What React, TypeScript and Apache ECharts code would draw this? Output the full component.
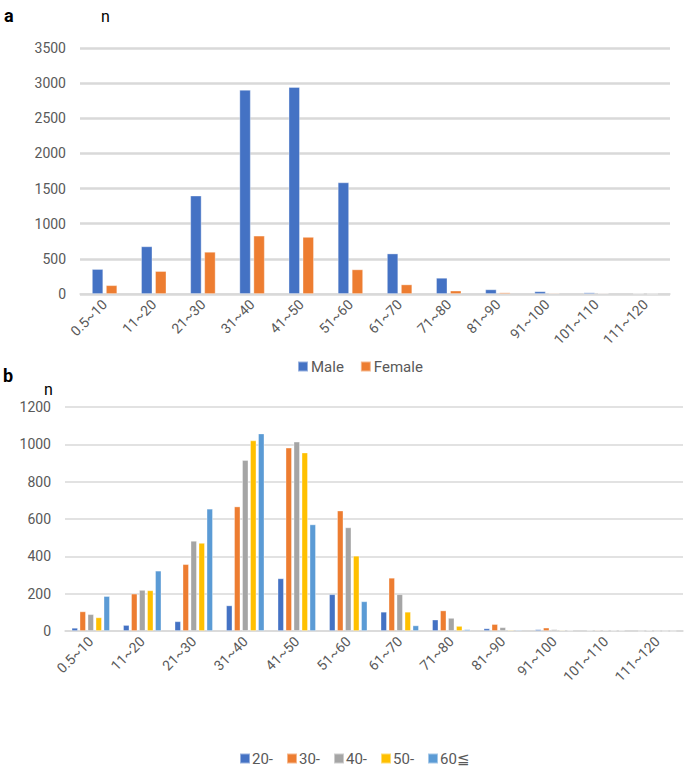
import React, { useEffect, useRef } from "react";
import * as echarts from "echarts";

const categories = ["0.5~10", "11~20", "21~30", "31~40", "41~50", "51~60", "61~70", "71~80", "81~90", "91~100", "101~110", "111~120"];

const male = [355, 678, 1400, 2905, 2945, 1588, 576, 230, 66, 38, 22, 8];
const female = [125, 326, 600, 830, 812, 350, 136, 48, 22, 14, 12, 3];

const topTicks = { min: 0, max: 3500, interval: 500 };
const bottomTicks = { min: 0, max: 1200, interval: 200 };

const age20 = [17, 32, 52, 137, 282, 197, 103, 61, 14, 9, 3, 0];
const age30 = [105, 200, 358, 667, 982, 645, 285, 110, 37, 18, 5, 3];
const age40 = [90, 220, 483, 916, 1014, 555, 197, 70, 20, 9, 5, 0];
const age50 = [73, 218, 472, 1021, 956, 403, 103, 27, 6, 5, 3, 0];
const age60 = [187, 323, 655, 1058, 571, 159, 30, 9, 6, 3, 3, 0];

const ageNames = ["20-", "30-", "40-", "50-", "60≦"];
const ageColors = ["#4472C4", "#ED7D31", "#A5A5A5", "#FFC000", "#5B9BD5"];

const FONT = "Roboto, 'Noto Sans', sans-serif";
const TXT = "#595959";

export default function App() {
  const ref = useRef<HTMLDivElement>(null);
  useEffect(() => {
    if (!ref.current) return;
    const chart = echarts.init(ref.current, null, { renderer: "svg" });
    const ageData = [age20, age30, age40, age50, age60];
    const xAxisCommon = {
      type: "category" as const,
      data: categories,
      axisLine: { lineStyle: { color: "#D9D9D9", width: 1.5 } },
      axisTick: { show: false },
      axisLabel: { interval: 0, rotate: 45, color: TXT, fontSize: 14, fontFamily: FONT, margin: 8 },
    };
    const yAxisCommon = {
      type: "value" as const,
      axisLine: { show: false },
      axisTick: { show: false },
      axisLabel: { color: TXT, fontSize: 14, fontFamily: FONT, margin: 14, formatter: (v: number) => String(v) },
    };
    const barBorder = { borderColor: "rgba(255,255,255,0.45)", borderWidth: 0.8 };
    chart.setOption({
      animation: false,
      textStyle: { fontFamily: FONT },
      grid: [
        { left: 80, right: 15, top: 48, height: 246 },
        { left: 65, right: 2, top: 407, height: 224 },
      ],
      xAxis: [
        { ...xAxisCommon, gridIndex: 0 },
        { ...xAxisCommon, gridIndex: 1 },
      ],
      yAxis: [
        { ...yAxisCommon, gridIndex: 0, ...topTicks, splitLine: { lineStyle: { color: "#D9D9D9", width: 2.5 } } },
        { ...yAxisCommon, gridIndex: 1, ...bottomTicks, splitLine: { lineStyle: { color: "#D9D9D9", width: 1.5 } } },
      ],
      legend: [
        {
          data: ["Male", "Female"],
          top: 354,
          left: 292,
          itemWidth: 10,
          itemHeight: 10,
          itemGap: 16,
          icon: "rect",
          textStyle: { color: TXT, fontSize: 15, fontFamily: FONT, padding: [0, 0, 0, -2] },
        },
        {
          data: ageNames,
          top: 746,
          left: 234,
          itemWidth: 10,
          itemHeight: 10,
          itemGap: 13,
          icon: "rect",
          textStyle: { color: TXT, fontSize: 15, fontFamily: FONT, padding: [0, 0, 0, -3] },
        },
      ],
      graphic: [
        { type: "text", left: 4, top: 6, style: { text: "a", font: "bold 18px " + FONT, fill: "#000" } },
        { type: "text", left: 101, top: 8, style: { text: "n", font: "16px " + FONT, fill: "#000" } },
        { type: "text", left: 3, top: 366, style: { text: "b", font: "bold 18px " + FONT, fill: "#000" } },
        { type: "text", left: 44, top: 381, style: { text: "n", font: "16px " + FONT, fill: "#000" } },
      ],
      series: [
        { name: "Male", type: "bar", xAxisIndex: 0, yAxisIndex: 0, data: male, barWidth: 11.3, barGap: "24%", itemStyle: { color: "#4472C4", ...barBorder } },
        { name: "Female", type: "bar", xAxisIndex: 0, yAxisIndex: 0, data: female, barWidth: 11.3, barGap: "24%", itemStyle: { color: "#ED7D31", ...barBorder } },
        ...ageNames.map((n, i) => ({
          name: n,
          type: "bar",
          xAxisIndex: 1,
          yAxisIndex: 1,
          data: ageData[i],
          barWidth: 6.3,
          barGap: "27%",
          itemStyle: { color: ageColors[i], ...barBorder },
        })),
      ],
    });
    return () => chart.dispose();
  }, []);
  return <div ref={ref} style={{ position: "fixed", left: 0, top: 0, width: 685, height: 778, background: "#fff" }} />;
}
